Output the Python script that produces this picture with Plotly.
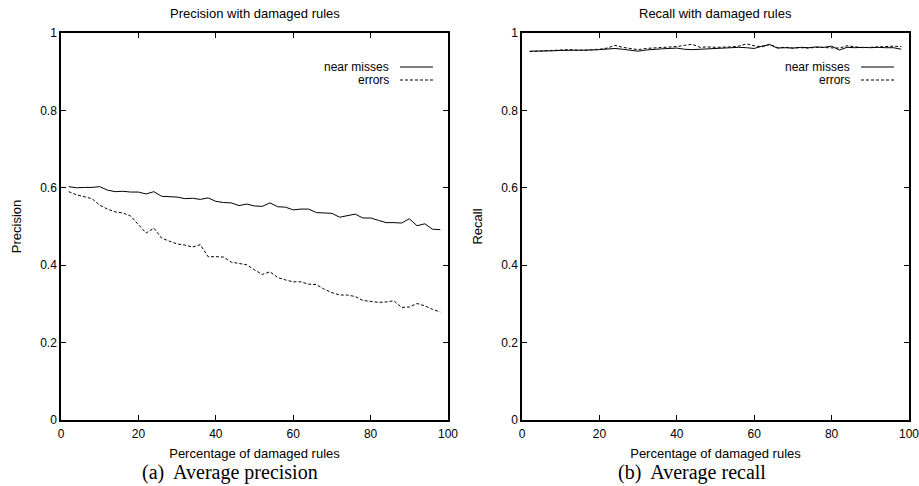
import plotly.graph_objects as go

# ---- data ----
pct = list(range(2, 100, 2))

prec_near = [0.603, 0.600, 0.601, 0.601, 0.603, 0.594, 0.590, 0.591, 0.589, 0.589,
             0.584, 0.590, 0.578, 0.577, 0.576, 0.572, 0.573, 0.570, 0.574, 0.565,
             0.562, 0.561, 0.554, 0.558, 0.553, 0.552, 0.561, 0.551, 0.550, 0.543,
             0.545, 0.545, 0.536, 0.535, 0.534, 0.524, 0.528, 0.532, 0.522, 0.522,
             0.516, 0.510, 0.510, 0.509, 0.520, 0.502, 0.507, 0.493, 0.492]
prec_err = [0.590, 0.582, 0.577, 0.572, 0.555, 0.545, 0.538, 0.535, 0.527, 0.506,
            0.483, 0.496, 0.470, 0.462, 0.455, 0.452, 0.447, 0.453, 0.422, 0.422,
            0.421, 0.408, 0.405, 0.401, 0.388, 0.376, 0.383, 0.368, 0.362, 0.357,
            0.357, 0.351, 0.350, 0.338, 0.329, 0.323, 0.323, 0.319, 0.309, 0.307,
            0.304, 0.305, 0.308, 0.291, 0.292, 0.301, 0.295, 0.286, 0.279]
rec_near = [0.953, 0.953, 0.954, 0.954, 0.955, 0.955, 0.956, 0.955, 0.956, 0.957,
            0.958, 0.960, 0.958, 0.955, 0.953, 0.956, 0.958, 0.959, 0.960, 0.961,
            0.958, 0.957, 0.958, 0.959, 0.960, 0.960, 0.961, 0.963, 0.962, 0.960,
            0.966, 0.970, 0.961, 0.962, 0.961, 0.963, 0.962, 0.964, 0.963, 0.966,
            0.956, 0.963, 0.962, 0.963, 0.962, 0.963, 0.962, 0.962, 0.958]
rec_err = [0.952, 0.953, 0.953, 0.955, 0.955, 0.957, 0.956, 0.955, 0.957, 0.958,
           0.961, 0.968, 0.963, 0.960, 0.957, 0.960, 0.961, 0.962, 0.963, 0.965,
           0.968, 0.971, 0.963, 0.964, 0.963, 0.963, 0.964, 0.966, 0.972, 0.967,
           0.964, 0.971, 0.962, 0.963, 0.961, 0.962, 0.961, 0.963, 0.962, 0.962,
           0.961, 0.967, 0.964, 0.962, 0.963, 0.964, 0.965, 0.966, 0.965]

x_ticks = [0, 20, 40, 60, 80, 100]
y_ticks = [0, 0.2, 0.4, 0.6, 0.8, 1]
series_names = ["near misses", "errors"]
titles = ["Precision with damaged rules", "Recall with damaged rules"]
y_titles = ["Precision", "Recall"]
x_title = "Percentage of damaged rules"
captions = ["(a)  Average precision", "(b)  Average recall"]

W, H = 919, 486
FONT = "Liberation Sans, Arial, sans-serif"

fig = go.Figure()
fig.add_trace(go.Scatter(x=pct, y=prec_near, mode="lines", name=series_names[0],
                         line=dict(color="black", width=1), xaxis="x", yaxis="y", showlegend=False))
fig.add_trace(go.Scatter(x=pct, y=prec_err, mode="lines", name=series_names[1],
                         line=dict(color="black", width=1, dash="3px,2px"), xaxis="x", yaxis="y", showlegend=False))
fig.add_trace(go.Scatter(x=pct, y=rec_near, mode="lines", name=series_names[0],
                         line=dict(color="black", width=1), xaxis="x2", yaxis="y2", showlegend=False))
fig.add_trace(go.Scatter(x=pct, y=rec_err, mode="lines", name=series_names[1],
                         line=dict(color="black", width=1, dash="3px,2px"), xaxis="x2", yaxis="y2", showlegend=False))

ax_common = dict(showline=True, linecolor="black", linewidth=1.5, mirror="ticks",
                 ticks="inside", ticklen=5, tickcolor="black", tickwidth=1,
                 showgrid=False, zeroline=False, automargin=False,
                 ticklabeloverflow="allow",
                 tickfont=dict(family=FONT, size=12, color="black"))

px_left = (61, 448)
px_right = (522, 909)
py = (33, 420)
ydom = [1 - py[1] / H, 1 - py[0] / H]

fig.update_layout(
    width=W, height=H, margin=dict(l=0, r=0, t=0, b=0),
    paper_bgcolor="white", plot_bgcolor="white",
    font=dict(family=FONT, size=12, color="black"),
    xaxis=dict(domain=[px_left[0] / W, px_left[1] / W], range=[0, 100], tickvals=x_ticks,
               anchor="y", ticklabelstandoff=2,
               title=dict(text=x_title, standoff=9, font=dict(size=13)), **ax_common),
    yaxis=dict(domain=ydom, range=[0, 1], tickvals=y_ticks, anchor="x",
               title=dict(text=y_titles[0], standoff=16, font=dict(size=13)), **ax_common),
    xaxis2=dict(domain=[px_right[0] / W, px_right[1] / W], range=[0, 100], tickvals=x_ticks,
                anchor="y2", ticklabelstandoff=2,
                title=dict(text=x_title, standoff=9, font=dict(size=13)), **ax_common),
    yaxis2=dict(domain=ydom, range=[0, 1], tickvals=y_ticks, anchor="x2",
                title=dict(text=y_titles[1], standoff=16, font=dict(size=13)), **ax_common),
)

annotations = []
shapes = []
for i, (x0, x1) in enumerate([px_left, px_right]):
    cx = (x0 + x1) / 2 / W
    annotations.append(dict(text=titles[i], x=cx, y=1 - 14 / H, xref="paper", yref="paper",
                            showarrow=False, xanchor="center", yanchor="middle",
                            font=dict(family=FONT, size=13)))
    annotations.append(dict(text=captions[i], x=(cx * W - 24) / W, y=1 - 472 / H, xref="paper", yref="paper",
                            showarrow=False, xanchor="center", yanchor="middle",
                            font=dict(family="Liberation Serif, Times New Roman, serif", size=20)))
    # legend (gnuplot style: text then key sample)
    off = x0 - px_left[0]
    for j, (ly, dash) in enumerate([(67, "solid"), (80, "3px,2px")]):
        annotations.append(dict(text=series_names[j], x=(391 + off) / W, y=1 - ly / H,
                                xref="paper", yref="paper", showarrow=False,
                                xanchor="right", yanchor="middle", font=dict(family=FONT, size=12)))
        shapes.append(dict(type="line", xref="paper", yref="paper",
                           x0=(400 + off) / W, x1=(433 + off) / W, y0=1 - ly / H, y1=1 - ly / H,
                           line=dict(color="black", width=1, dash=dash)))

fig.update_layout(annotations=annotations, shapes=shapes)
fig.write_html("out.html")
